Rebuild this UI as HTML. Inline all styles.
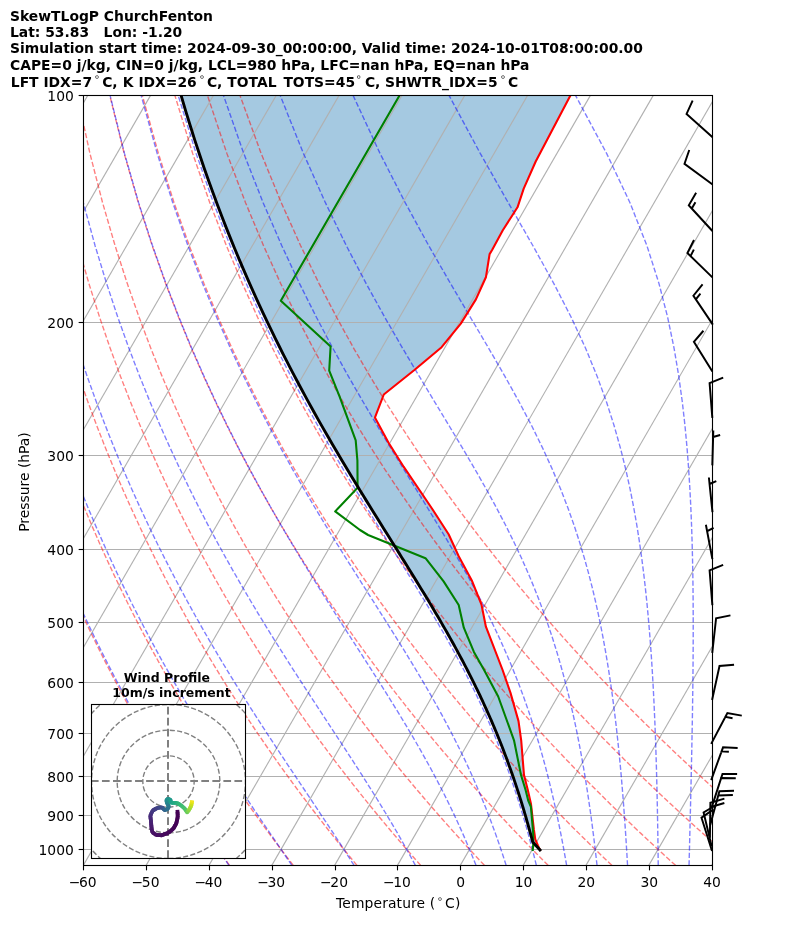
<!DOCTYPE html>
<html><head><meta charset="utf-8"><title>SkewTLogP ChurchFenton</title>
<style>html,body{margin:0;padding:0;background:#fff}svg{display:block}</style></head>
<body>
<svg width="794" height="937" viewBox="0 0 794 937"><defs><clipPath id="axclip"><rect x="83.50" y="95.50" width="629.00" height="770.00"/></clipPath></defs><rect width="794" height="937" fill="#fff"/><g clip-path="url(#axclip)">
<path d="M540.00 850.00 L532.70 842.00 L532.46 841.08 L532.02 839.40 L531.57 837.71 L531.12 836.00 L530.66 834.29 L530.19 832.58 L529.72 830.85 L529.24 829.11 L528.76 827.36 L528.27 825.61 L527.78 823.84 L527.27 822.07 L526.76 820.28 L526.25 818.49 L525.73 816.68 L525.20 814.87 L524.66 813.05 L524.12 811.21 L523.57 809.37 L523.01 807.51 L522.44 805.65 L521.87 803.77 L521.29 801.88 L520.70 799.98 L520.10 798.07 L519.49 796.15 L518.88 794.22 L518.25 792.28 L517.62 790.32 L516.98 788.36 L516.33 786.38 L515.66 784.39 L514.99 782.38 L514.31 780.37 L513.62 778.34 L512.92 776.30 L512.21 774.25 L511.49 772.18 L510.75 770.10 L510.01 768.01 L509.25 765.90 L508.49 763.78 L507.71 761.65 L506.92 759.50 L506.11 757.34 L505.30 755.17 L504.47 752.98 L503.63 750.77 L502.77 748.55 L501.90 746.32 L501.02 744.06 L500.12 741.80 L499.21 739.52 L498.28 737.22 L497.34 734.90 L496.38 732.57 L495.41 730.23 L494.42 727.86 L493.41 725.48 L492.39 723.08 L491.35 720.66 L490.29 718.23 L489.22 715.78 L488.12 713.30 L487.01 710.81 L485.88 708.31 L484.73 705.78 L483.56 703.23 L482.37 700.66 L481.16 698.07 L479.93 695.46 L478.68 692.83 L477.40 690.18 L476.11 687.51 L474.79 684.81 L473.45 682.09 L472.08 679.35 L470.69 676.59 L469.28 673.80 L467.84 670.99 L466.38 668.16 L464.90 665.30 L463.38 662.41 L461.84 659.50 L460.28 656.56 L458.69 653.60 L457.07 650.61 L455.42 647.59 L453.74 644.55 L452.04 641.47 L450.30 638.37 L448.54 635.23 L446.75 632.07 L444.93 628.87 L443.07 625.65 L441.19 622.39 L439.28 619.10 L437.33 615.77 L435.35 612.41 L433.34 609.02 L431.30 605.59 L429.23 602.13 L427.12 598.62 L424.98 595.08 L422.81 591.51 L420.60 587.89 L418.36 584.23 L416.09 580.53 L413.78 576.79 L411.44 573.00 L409.07 569.17 L406.66 565.29 L404.21 561.37 L401.74 557.40 L399.23 553.38 L396.68 549.32 L394.10 545.20 L391.49 541.03 L388.84 536.80 L386.16 532.52 L383.45 528.18 L380.70 523.79 L377.92 519.33 L375.10 514.81 L372.26 510.23 L369.37 505.59 L366.46 500.88 L363.51 496.10 L360.53 491.25 L357.51 486.32 L354.46 481.32 L351.38 476.24 L348.27 471.09 L345.12 465.85 L341.95 460.52 L338.73 455.11 L335.49 449.61 L332.21 444.01 L328.91 438.31 L325.56 432.52 L322.19 426.62 L318.78 420.61 L315.34 414.49 L311.87 408.25 L308.36 401.89 L304.82 395.41 L301.25 388.79 L297.64 382.04 L293.99 375.14 L290.32 368.10 L286.61 360.90 L282.86 353.54 L279.07 346.02 L275.25 338.31 L271.40 330.42 L267.51 322.33 L263.57 314.04 L259.60 305.54 L255.60 296.80 L251.55 287.83 L247.46 278.61 L243.33 269.11 L239.16 259.34 L234.95 249.26 L230.70 238.86 L226.40 228.13 L222.06 217.03 L217.68 205.53 L213.26 193.62 L208.79 181.27 L204.27 168.42 L199.72 155.05 L195.12 141.12 L190.48 126.56 L185.80 111.33 L181.08 95.35 L570.40 95.50 L535.70 161.50 L523.70 188.70 L517.50 207.30 L502.80 230.30 L492.10 250.00 L489.60 254.10 L485.90 277.30 L475.90 299.40 L460.80 323.60 L441.60 347.20 L414.40 370.00 L383.80 394.50 L374.90 417.60 L388.40 442.50 L403.60 466.70 L431.60 508.00 L448.60 534.20 L458.70 556.20 L471.80 580.40 L481.50 604.60 L485.90 626.70 L502.60 670.00 L510.50 692.90 L518.50 721.10 L521.20 740.30 L522.90 761.70 L524.00 775.00 L527.80 790.00 L531.00 804.10 L533.90 829.70 L535.30 839.40 L537.90 845.50 L540.00 850.00 Z" fill="#1f77b4" fill-opacity="0.4" stroke="none"/>
<line x1="83.50" y1="95.50" x2="712.50" y2="95.50" stroke="#b0b0b0" stroke-width="1.11"/>
<line x1="83.50" y1="322.50" x2="712.50" y2="322.50" stroke="#b0b0b0" stroke-width="1.11"/>
<line x1="83.50" y1="455.50" x2="712.50" y2="455.50" stroke="#b0b0b0" stroke-width="1.11"/>
<line x1="83.50" y1="549.50" x2="712.50" y2="549.50" stroke="#b0b0b0" stroke-width="1.11"/>
<line x1="83.50" y1="622.50" x2="712.50" y2="622.50" stroke="#b0b0b0" stroke-width="1.11"/>
<line x1="83.50" y1="682.50" x2="712.50" y2="682.50" stroke="#b0b0b0" stroke-width="1.11"/>
<line x1="83.50" y1="733.50" x2="712.50" y2="733.50" stroke="#b0b0b0" stroke-width="1.11"/>
<line x1="83.50" y1="776.50" x2="712.50" y2="776.50" stroke="#b0b0b0" stroke-width="1.11"/>
<line x1="83.50" y1="815.50" x2="712.50" y2="815.50" stroke="#b0b0b0" stroke-width="1.11"/>
<line x1="83.50" y1="849.50" x2="712.50" y2="849.50" stroke="#b0b0b0" stroke-width="1.11"/>
<line x1="-356.55" y1="865.35" x2="87.74" y2="95.35" stroke="#b0b0b0" stroke-width="1.11"/>
<line x1="-293.71" y1="865.35" x2="150.58" y2="95.35" stroke="#b0b0b0" stroke-width="1.11"/>
<line x1="-230.88" y1="865.35" x2="213.41" y2="95.35" stroke="#b0b0b0" stroke-width="1.11"/>
<line x1="-168.04" y1="865.35" x2="276.25" y2="95.35" stroke="#b0b0b0" stroke-width="1.11"/>
<line x1="-105.20" y1="865.35" x2="339.08" y2="95.35" stroke="#b0b0b0" stroke-width="1.11"/>
<line x1="-42.37" y1="865.35" x2="401.92" y2="95.35" stroke="#b0b0b0" stroke-width="1.11"/>
<line x1="20.46" y1="865.35" x2="464.75" y2="95.35" stroke="#b0b0b0" stroke-width="1.11"/>
<line x1="83.30" y1="865.35" x2="527.59" y2="95.35" stroke="#b0b0b0" stroke-width="1.11"/>
<line x1="146.13" y1="865.35" x2="590.42" y2="95.35" stroke="#b0b0b0" stroke-width="1.11"/>
<line x1="208.97" y1="865.35" x2="653.26" y2="95.35" stroke="#b0b0b0" stroke-width="1.11"/>
<line x1="271.81" y1="865.35" x2="716.10" y2="95.35" stroke="#b0b0b0" stroke-width="1.11"/>
<line x1="334.64" y1="865.35" x2="778.93" y2="95.35" stroke="#b0b0b0" stroke-width="1.11"/>
<line x1="397.48" y1="865.35" x2="841.76" y2="95.35" stroke="#b0b0b0" stroke-width="1.11"/>
<line x1="460.31" y1="865.35" x2="904.60" y2="95.35" stroke="#b0b0b0" stroke-width="1.11"/>
<line x1="523.14" y1="865.35" x2="967.43" y2="95.35" stroke="#b0b0b0" stroke-width="1.11"/>
<line x1="585.98" y1="865.35" x2="1030.27" y2="95.35" stroke="#b0b0b0" stroke-width="1.11"/>
<line x1="648.81" y1="865.35" x2="1093.11" y2="95.35" stroke="#b0b0b0" stroke-width="1.11"/>
<line x1="711.65" y1="865.35" x2="1155.94" y2="95.35" stroke="#b0b0b0" stroke-width="1.11"/>
<path d="M229.54 865.35 L225.17 859.25 L220.76 853.03 L216.31 846.69 L211.82 840.22 L207.29 833.63 L202.71 826.90 L198.09 820.03 L193.42 813.01 L188.70 805.84 L183.94 798.50 L179.13 791.00 L174.26 783.33 L169.35 775.46 L164.37 767.41 L159.35 759.15 L154.26 750.68 L149.12 741.98 L143.92 733.05 L138.65 723.87 L133.33 714.42 L127.93 704.69 L122.47 694.66 L116.94 684.31 L111.33 673.63 L105.65 662.59 L99.90 651.16 L94.07 639.32 L88.15 627.03 L82.15 614.27 L76.07 600.99 L69.89 587.14 L63.63 572.69 L57.27 557.57 L50.81 541.71 L44.26 525.05 L37.61 507.49 L30.86 488.94 L24.01 469.28 L17.06 448.36 L10.02 426.01 L2.89 402.02 L-4.32 376.14 L-11.58 348.03 L-18.88 317.28 L-26.17 283.35 L-33.38 245.48 L-40.39 202.66 L-47.02 153.38 L-52.95 95.35" fill="none" stroke="#ff0000" stroke-opacity="0.5" stroke-width="1.39" stroke-dasharray="5.14 2.22"/>
<path d="M293.25 865.35 L288.55 859.25 L283.80 853.03 L279.00 846.69 L274.16 840.22 L269.26 833.63 L264.32 826.90 L259.33 820.03 L254.29 813.01 L249.20 805.84 L244.05 798.50 L238.84 791.00 L233.58 783.33 L228.26 775.46 L222.87 767.41 L217.43 759.15 L211.91 750.68 L206.34 741.98 L200.69 733.05 L194.97 723.87 L189.18 714.42 L183.31 704.69 L177.37 694.66 L171.34 684.31 L165.24 673.63 L159.04 662.59 L152.76 651.16 L146.38 639.32 L139.91 627.03 L133.33 614.27 L126.66 600.99 L119.88 587.14 L112.99 572.69 L105.98 557.57 L98.86 541.71 L91.61 525.05 L84.24 507.49 L76.74 488.94 L69.11 469.28 L61.35 448.36 L53.45 426.01 L45.42 402.02 L37.26 376.14 L28.99 348.03 L20.62 317.28 L12.18 283.35 L3.72 245.48 L-4.65 202.66 L-12.79 153.38 L-20.40 95.35" fill="none" stroke="#ff0000" stroke-opacity="0.5" stroke-width="1.39" stroke-dasharray="5.14 2.22"/>
<path d="M356.97 865.35 L351.92 859.25 L346.83 853.03 L341.69 846.69 L336.49 840.22 L331.24 833.63 L325.94 826.90 L320.58 820.03 L315.17 813.01 L309.69 805.84 L304.16 798.50 L298.56 791.00 L292.90 783.33 L287.17 775.46 L281.37 767.41 L275.50 759.15 L269.57 750.68 L263.55 741.98 L257.46 733.05 L251.29 723.87 L245.04 714.42 L238.70 704.69 L232.27 694.66 L225.75 684.31 L219.14 673.63 L212.43 662.59 L205.61 651.16 L198.69 639.32 L191.66 627.03 L184.52 614.27 L177.25 600.99 L169.86 587.14 L162.34 572.69 L154.69 557.57 L146.90 541.71 L138.96 525.05 L130.87 507.49 L122.62 488.94 L114.21 469.28 L105.63 448.36 L96.88 426.01 L87.95 402.02 L78.84 376.14 L69.56 348.03 L60.11 317.28 L50.52 283.35 L40.82 245.48 L31.09 202.66 L21.45 153.38 L12.14 95.35" fill="none" stroke="#ff0000" stroke-opacity="0.5" stroke-width="1.39" stroke-dasharray="5.14 2.22"/>
<path d="M420.69 865.35 L415.30 859.25 L409.87 853.03 L404.37 846.69 L398.83 840.22 L393.22 833.63 L387.55 826.90 L381.83 820.03 L376.04 813.01 L370.18 805.84 L364.26 798.50 L358.27 791.00 L352.21 783.33 L346.08 775.46 L339.87 767.41 L333.58 759.15 L327.22 750.68 L320.77 741.98 L314.23 733.05 L307.61 723.87 L300.89 714.42 L294.08 704.69 L287.17 694.66 L280.16 684.31 L273.04 673.63 L265.81 662.59 L258.47 651.16 L251.00 639.32 L243.42 627.03 L235.70 614.27 L227.84 600.99 L219.85 587.14 L211.70 572.69 L203.40 557.57 L194.94 541.71 L186.31 525.05 L177.50 507.49 L168.50 488.94 L159.31 469.28 L149.92 448.36 L140.31 426.01 L130.48 402.02 L120.42 376.14 L110.13 348.03 L99.61 317.28 L88.87 283.35 L77.93 245.48 L66.83 202.66 L55.68 153.38 L44.69 95.35" fill="none" stroke="#ff0000" stroke-opacity="0.5" stroke-width="1.39" stroke-dasharray="5.14 2.22"/>
<path d="M484.40 865.35 L478.68 859.25 L472.90 853.03 L467.06 846.69 L461.16 840.22 L455.20 833.63 L449.17 826.90 L443.07 820.03 L436.91 813.01 L430.68 805.84 L424.37 798.50 L417.99 791.00 L411.53 783.33 L404.99 775.46 L398.37 767.41 L391.66 759.15 L384.87 750.68 L377.98 741.98 L371.00 733.05 L363.93 723.87 L356.75 714.42 L349.46 704.69 L342.07 694.66 L334.57 684.31 L326.94 673.63 L319.20 662.59 L311.32 651.16 L303.32 639.32 L295.17 627.03 L286.88 614.27 L278.43 600.99 L269.83 587.14 L261.06 572.69 L252.11 557.57 L242.98 541.71 L233.66 525.05 L224.13 507.49 L214.38 488.94 L204.41 469.28 L194.20 448.36 L183.74 426.01 L173.01 402.02 L162.00 376.14 L150.71 348.03 L139.11 317.28 L127.22 283.35 L115.03 245.48 L102.57 202.66 L89.92 153.38 L77.23 95.35" fill="none" stroke="#ff0000" stroke-opacity="0.5" stroke-width="1.39" stroke-dasharray="5.14 2.22"/>
<path d="M548.12 865.35 L542.06 859.25 L535.94 853.03 L529.75 846.69 L523.50 840.22 L517.18 833.63 L510.78 826.90 L504.32 820.03 L497.78 813.01 L491.17 805.84 L484.48 798.50 L477.70 791.00 L470.84 783.33 L463.90 775.46 L456.87 767.41 L449.74 759.15 L442.52 750.68 L435.20 741.98 L427.77 733.05 L420.24 723.87 L412.60 714.42 L404.85 704.69 L396.97 694.66 L388.97 684.31 L380.85 673.63 L372.58 662.59 L364.18 651.16 L355.63 639.32 L346.93 627.03 L338.06 614.27 L329.03 600.99 L319.82 587.14 L310.42 572.69 L300.83 557.57 L291.03 541.71 L281.01 525.05 L270.76 507.49 L260.26 488.94 L249.51 469.28 L238.48 448.36 L227.17 426.01 L215.54 402.02 L203.58 376.14 L191.28 348.03 L178.61 317.28 L165.56 283.35 L152.13 245.48 L138.31 202.66 L124.16 153.38 L109.78 95.35" fill="none" stroke="#ff0000" stroke-opacity="0.5" stroke-width="1.39" stroke-dasharray="5.14 2.22"/>
<path d="M611.84 865.35 L605.44 859.25 L598.97 853.03 L592.44 846.69 L585.83 840.22 L579.15 833.63 L572.40 826.90 L565.57 820.03 L558.66 813.01 L551.66 805.84 L544.58 798.50 L537.42 791.00 L530.16 783.33 L522.81 775.46 L515.36 767.41 L507.82 759.15 L500.17 750.68 L492.41 741.98 L484.54 733.05 L476.56 723.87 L468.46 714.42 L460.23 704.69 L451.87 694.66 L443.38 684.31 L434.75 673.63 L425.97 662.59 L417.04 651.16 L407.94 639.32 L398.68 627.03 L389.24 614.27 L379.62 600.99 L369.80 587.14 L359.78 572.69 L349.54 557.57 L339.07 541.71 L328.36 525.05 L317.39 507.49 L306.14 488.94 L294.61 469.28 L282.77 448.36 L270.60 426.01 L258.07 402.02 L245.16 376.14 L231.85 348.03 L218.11 317.28 L203.91 283.35 L189.23 245.48 L174.05 202.66 L158.39 153.38 L142.33 95.35" fill="none" stroke="#ff0000" stroke-opacity="0.5" stroke-width="1.39" stroke-dasharray="5.14 2.22"/>
<path d="M675.55 865.35 L668.82 859.25 L662.01 853.03 L655.13 846.69 L648.17 840.22 L641.13 833.63 L634.01 826.90 L626.81 820.03 L619.53 813.01 L612.16 805.84 L604.69 798.50 L597.13 791.00 L589.48 783.33 L581.72 775.46 L573.86 767.41 L565.90 759.15 L557.82 750.68 L549.63 741.98 L541.31 733.05 L532.88 723.87 L524.31 714.42 L515.61 704.69 L506.77 694.66 L497.79 684.31 L488.65 673.63 L479.35 662.59 L469.89 651.16 L460.26 639.32 L450.44 627.03 L440.42 614.27 L430.21 600.99 L419.79 587.14 L409.14 572.69 L398.25 557.57 L387.11 541.71 L375.70 525.05 L364.02 507.49 L352.02 488.94 L339.71 469.28 L327.05 448.36 L314.02 426.01 L300.60 402.02 L286.74 376.14 L272.42 348.03 L257.61 317.28 L242.25 283.35 L226.33 245.48 L209.79 202.66 L192.63 153.38 L174.87 95.35" fill="none" stroke="#ff0000" stroke-opacity="0.5" stroke-width="1.39" stroke-dasharray="5.14 2.22"/>
<path d="M739.27 865.35 L732.20 859.25 L725.05 853.03 L717.81 846.69 L710.50 840.22 L703.11 833.63 L695.63 826.90 L688.06 820.03 L680.40 813.01 L672.65 805.84 L664.80 798.50 L656.85 791.00 L648.79 783.33 L640.63 775.46 L632.36 767.41 L623.98 759.15 L615.47 750.68 L606.84 741.98 L598.09 733.05 L589.20 723.87 L580.17 714.42 L571.00 704.69 L561.67 694.66 L552.20 684.31 L542.55 673.63 L532.74 662.59 L522.75 651.16 L512.57 639.32 L502.19 627.03 L491.61 614.27 L480.80 600.99 L469.77 587.14 L458.49 572.69 L446.96 557.57 L435.15 541.71 L423.05 525.05 L410.64 507.49 L397.91 488.94 L384.81 469.28 L371.34 448.36 L357.45 426.01 L343.13 402.02 L328.32 376.14 L313.00 348.03 L297.11 317.28 L280.60 283.35 L263.43 245.48 L245.53 202.66 L226.86 153.38 L207.42 95.35" fill="none" stroke="#ff0000" stroke-opacity="0.5" stroke-width="1.39" stroke-dasharray="5.14 2.22"/>
<path d="M802.99 865.35 L795.58 859.25 L788.08 853.03 L780.50 846.69 L772.84 840.22 L765.09 833.63 L757.24 826.90 L749.31 820.03 L741.27 813.01 L733.14 805.84 L724.91 798.50 L716.56 791.00 L708.11 783.33 L699.54 775.46 L690.86 767.41 L682.05 759.15 L673.12 750.68 L664.06 741.98 L654.86 733.05 L645.51 723.87 L636.02 714.42 L626.38 704.69 L616.57 694.66 L606.60 684.31 L596.46 673.63 L586.13 662.59 L575.60 651.16 L564.88 639.32 L553.95 627.03 L542.79 614.27 L531.40 600.99 L519.76 587.14 L507.85 572.69 L495.67 557.57 L483.19 541.71 L470.40 525.05 L457.27 507.49 L443.79 488.94 L429.91 469.28 L415.62 448.36 L400.88 426.01 L385.66 402.02 L369.90 376.14 L353.57 348.03 L336.60 317.28 L318.95 283.35 L300.53 245.48 L281.27 202.66 L261.10 153.38 L239.96 95.35" fill="none" stroke="#ff0000" stroke-opacity="0.5" stroke-width="1.39" stroke-dasharray="5.14 2.22"/>
<path d="M228.97 865.35 L224.84 859.25 L220.64 853.03 L216.39 846.69 L212.08 840.22 L207.71 833.63 L203.28 826.90 L198.80 820.03 L194.25 813.01 L189.64 805.84 L184.97 798.50 L180.24 791.00 L175.45 783.33 L170.60 775.46 L165.68 767.41 L160.70 759.15 L155.66 750.68 L150.55 741.98 L145.37 733.05 L140.13 723.87 L134.81 714.42 L129.43 704.69 L123.97 694.66 L118.44 684.31 L112.84 673.63 L107.16 662.59 L101.39 651.16 L95.55 639.32 L89.63 627.03 L83.61 614.27 L77.52 600.99 L71.33 587.14 L65.05 572.69 L58.67 557.57 L52.20 541.71 L45.63 525.05 L38.96 507.49 L32.18 488.94 L25.31 469.28 L18.34 448.36 L11.27 426.01 L4.12 402.02 L-3.12 376.14 L-10.41 348.03 L-17.74 317.28 L-25.06 283.35 L-32.31 245.48 L-39.36 202.66 L-46.03 153.38 L-52.01 95.35" fill="none" stroke="#0000ff" stroke-opacity="0.5" stroke-width="1.39" stroke-dasharray="5.14 2.22"/>
<path d="M291.89 865.35 L287.74 859.25 L283.51 853.03 L279.20 846.69 L274.80 840.22 L270.33 833.63 L265.77 826.90 L261.13 820.03 L256.40 813.01 L251.60 805.84 L246.71 798.50 L241.73 791.00 L236.68 783.33 L231.54 775.46 L226.31 767.41 L221.00 759.15 L215.61 750.68 L210.13 741.98 L204.57 733.05 L198.91 723.87 L193.17 714.42 L187.35 704.69 L181.43 694.66 L175.42 684.31 L169.31 673.63 L163.12 662.59 L156.82 651.16 L150.43 639.32 L143.93 627.03 L137.33 614.27 L130.62 600.99 L123.80 587.14 L116.87 572.69 L109.81 557.57 L102.64 541.71 L95.34 525.05 L87.92 507.49 L80.36 488.94 L72.67 469.28 L64.84 448.36 L56.88 426.01 L48.78 402.02 L40.55 376.14 L32.19 348.03 L23.73 317.28 L15.20 283.35 L6.65 245.48 L-1.83 202.66 L-10.08 153.38 L-17.83 95.35" fill="none" stroke="#0000ff" stroke-opacity="0.5" stroke-width="1.39" stroke-dasharray="5.14 2.22"/>
<path d="M354.08 865.35 L350.20 859.25 L346.22 853.03 L342.12 846.69 L337.91 840.22 L333.59 833.63 L329.16 826.90 L324.61 820.03 L319.95 813.01 L315.17 805.84 L310.27 798.50 L305.26 791.00 L300.12 783.33 L294.87 775.46 L289.50 767.41 L284.01 759.15 L278.40 750.68 L272.67 741.98 L266.82 733.05 L260.85 723.87 L254.76 714.42 L248.56 704.69 L242.23 694.66 L235.78 684.31 L229.21 673.63 L222.52 662.59 L215.70 651.16 L208.75 639.32 L201.68 627.03 L194.48 614.27 L187.14 600.99 L179.67 587.14 L172.05 572.69 L164.29 557.57 L156.38 541.71 L148.32 525.05 L140.09 507.49 L131.70 488.94 L123.14 469.28 L114.40 448.36 L105.48 426.01 L96.37 402.02 L87.08 376.14 L77.60 348.03 L67.94 317.28 L58.12 283.35 L48.17 245.48 L38.17 202.66 L28.23 153.38 L18.59 95.35" fill="none" stroke="#0000ff" stroke-opacity="0.5" stroke-width="1.39" stroke-dasharray="5.14 2.22"/>
<path d="M415.39 865.35 L412.12 859.25 L408.72 853.03 L405.20 846.69 L401.55 840.22 L397.76 833.63 L393.84 826.90 L389.78 820.03 L385.57 813.01 L381.21 805.84 L376.70 798.50 L372.03 791.00 L367.19 783.33 L362.20 775.46 L357.03 767.41 L351.70 759.15 L346.19 750.68 L340.51 741.98 L334.65 733.05 L328.62 723.87 L322.42 714.42 L316.03 704.69 L309.47 694.66 L302.74 684.31 L295.83 673.63 L288.74 662.59 L281.48 651.16 L274.04 639.32 L266.42 627.03 L258.63 614.27 L250.66 600.99 L242.51 587.14 L234.18 572.69 L225.66 557.57 L216.95 541.71 L208.04 525.05 L198.93 507.49 L189.61 488.94 L180.08 469.28 L170.32 448.36 L160.32 426.01 L150.08 402.02 L139.59 376.14 L128.84 348.03 L117.82 317.28 L106.55 283.35 L95.03 245.48 L83.31 202.66 L71.47 153.38 L59.69 95.35" fill="none" stroke="#0000ff" stroke-opacity="0.5" stroke-width="1.39" stroke-dasharray="5.14 2.22"/>
<path d="M475.99 865.35 L473.57 859.25 L471.04 853.03 L468.41 846.69 L465.66 840.22 L462.78 833.63 L459.78 826.90 L456.64 820.03 L453.35 813.01 L449.91 805.84 L446.31 798.50 L442.54 791.00 L438.58 783.33 L434.44 775.46 L430.10 767.41 L425.55 759.15 L420.79 750.68 L415.80 741.98 L410.57 733.05 L405.10 723.87 L399.38 714.42 L393.40 704.69 L387.16 694.66 L380.65 684.31 L373.86 673.63 L366.80 662.59 L359.46 651.16 L351.84 639.32 L343.94 627.03 L335.77 614.27 L327.31 600.99 L318.59 587.14 L309.58 572.69 L300.31 557.57 L290.75 541.71 L280.93 525.05 L270.82 507.49 L260.43 488.94 L249.75 469.28 L238.77 448.36 L227.48 426.01 L215.87 402.02 L203.92 376.14 L191.62 348.03 L178.94 317.28 L165.89 283.35 L152.44 245.48 L138.61 202.66 L124.45 153.38 L110.06 95.35" fill="none" stroke="#0000ff" stroke-opacity="0.5" stroke-width="1.39" stroke-dasharray="5.14 2.22"/>
<path d="M506.16 865.35 L504.21 859.25 L502.17 853.03 L500.04 846.69 L497.80 840.22 L495.47 833.63 L493.02 826.90 L490.45 820.03 L487.75 813.01 L484.91 805.84 L481.93 798.50 L478.80 791.00 L475.49 783.33 L472.01 775.46 L468.34 767.41 L464.47 759.15 L460.38 750.68 L456.06 741.98 L451.50 733.05 L446.69 723.87 L441.60 714.42 L436.23 704.69 L430.55 694.66 L424.57 684.31 L418.26 673.63 L411.61 662.59 L404.62 651.16 L397.28 639.32 L389.57 627.03 L381.50 614.27 L373.07 600.99 L364.27 587.14 L355.11 572.69 L345.58 557.57 L335.70 541.71 L325.45 525.05 L314.85 507.49 L303.90 488.94 L292.59 469.28 L280.91 448.36 L268.86 426.01 L256.43 402.02 L243.59 376.14 L230.34 348.03 L216.65 317.28 L202.50 283.35 L187.86 245.48 L172.74 202.66 L157.13 153.38 L141.13 95.35" fill="none" stroke="#0000ff" stroke-opacity="0.5" stroke-width="1.39" stroke-dasharray="5.14 2.22"/>
<path d="M536.36 865.35 L534.86 859.25 L533.30 853.03 L531.67 846.69 L529.95 840.22 L528.16 833.63 L526.27 826.90 L524.29 820.03 L522.21 813.01 L520.01 805.84 L517.70 798.50 L515.25 791.00 L512.67 783.33 L509.94 775.46 L507.05 767.41 L503.98 759.15 L500.72 750.68 L497.26 741.98 L493.57 733.05 L489.65 723.87 L485.47 714.42 L481.01 704.69 L476.25 694.66 L471.17 684.31 L465.74 673.63 L459.95 662.59 L453.76 651.16 L447.16 639.32 L440.12 627.03 L432.63 614.27 L424.67 600.99 L416.22 587.14 L407.28 572.69 L397.85 557.57 L387.91 541.71 L377.48 525.05 L366.55 507.49 L355.13 488.94 L343.23 469.28 L330.85 448.36 L318.00 426.01 L304.65 402.02 L290.81 376.14 L276.46 348.03 L261.57 317.28 L246.12 283.35 L230.08 245.48 L213.41 202.66 L196.09 153.38 L178.17 95.35" fill="none" stroke="#0000ff" stroke-opacity="0.5" stroke-width="1.39" stroke-dasharray="5.14 2.22"/>
<path d="M566.63 865.35 L565.56 859.25 L564.45 853.03 L563.28 846.69 L562.06 840.22 L560.78 833.63 L559.43 826.90 L558.02 820.03 L556.52 813.01 L554.95 805.84 L553.29 798.50 L551.53 791.00 L549.67 783.33 L547.69 775.46 L545.60 767.41 L543.37 759.15 L540.99 750.68 L538.45 741.98 L535.74 733.05 L532.84 723.87 L529.73 714.42 L526.38 704.69 L522.78 694.66 L518.90 684.31 L514.71 673.63 L510.18 662.59 L505.27 651.16 L499.96 639.32 L494.20 627.03 L487.95 614.27 L481.18 600.99 L473.83 587.14 L465.87 572.69 L457.27 557.57 L447.99 541.71 L438.02 525.05 L427.32 507.49 L415.91 488.94 L403.78 469.28 L390.95 448.36 L377.41 426.01 L363.18 402.02 L348.28 376.14 L332.69 348.03 L316.42 317.28 L299.42 283.35 L281.67 245.48 L263.12 202.66 L243.72 153.38 L223.44 95.35" fill="none" stroke="#0000ff" stroke-opacity="0.5" stroke-width="1.39" stroke-dasharray="5.14 2.22"/>
<path d="M597.02 865.35 L596.34 859.25 L595.63 853.03 L594.88 846.69 L594.10 840.22 L593.28 833.63 L592.41 826.90 L591.51 820.03 L590.55 813.01 L589.53 805.84 L588.46 798.50 L587.33 791.00 L586.13 783.33 L584.85 775.46 L583.49 767.41 L582.05 759.15 L580.50 750.68 L578.84 741.98 L577.07 733.05 L575.16 723.87 L573.10 714.42 L570.88 704.69 L568.48 694.66 L565.88 684.31 L563.05 673.63 L559.97 662.59 L556.59 651.16 L552.90 639.32 L548.84 627.03 L544.38 614.27 L539.44 600.99 L533.99 587.14 L527.94 572.69 L521.23 557.57 L513.77 541.71 L505.50 525.05 L496.32 507.49 L486.16 488.94 L474.96 469.28 L462.67 448.36 L449.27 426.01 L434.76 402.02 L419.16 376.14 L402.48 348.03 L384.77 317.28 L366.03 283.35 L346.24 245.48 L325.39 202.66 L303.39 153.38 L280.18 95.35" fill="none" stroke="#0000ff" stroke-opacity="0.5" stroke-width="1.39" stroke-dasharray="5.14 2.22"/>
<path d="M627.55 865.35 L627.20 859.25 L626.84 853.03 L626.45 846.69 L626.05 840.22 L625.62 833.63 L625.17 826.90 L624.70 820.03 L624.20 813.01 L623.67 805.84 L623.10 798.50 L622.50 791.00 L621.87 783.33 L621.19 775.46 L620.46 767.41 L619.68 759.15 L618.84 750.68 L617.94 741.98 L616.97 733.05 L615.93 723.87 L614.79 714.42 L613.56 704.69 L612.23 694.66 L610.77 684.31 L609.17 673.63 L607.42 662.59 L605.49 651.16 L603.35 639.32 L600.99 627.03 L598.36 614.27 L595.42 600.99 L592.13 587.14 L588.41 572.69 L584.21 557.57 L579.44 541.71 L574.00 525.05 L567.76 507.49 L560.59 488.94 L552.32 469.28 L542.79 448.36 L531.80 426.01 L519.19 402.02 L504.80 376.14 L488.55 348.03 L470.40 317.28 L450.41 283.35 L428.65 245.48 L405.18 202.66 L380.01 153.38 L353.08 95.35" fill="none" stroke="#0000ff" stroke-opacity="0.5" stroke-width="1.39" stroke-dasharray="5.14 2.22"/>
<path d="M658.23 865.35 L658.16 859.25 L658.08 853.03 L658.00 846.69 L657.91 840.22 L657.81 833.63 L657.70 826.90 L657.59 820.03 L657.46 813.01 L657.32 805.84 L657.17 798.50 L657.01 791.00 L656.83 783.33 L656.63 775.46 L656.41 767.41 L656.17 759.15 L655.90 750.68 L655.61 741.98 L655.29 733.05 L654.93 723.87 L654.53 714.42 L654.09 704.69 L653.60 694.66 L653.05 684.31 L652.44 673.63 L651.75 662.59 L650.98 651.16 L650.11 639.32 L649.12 627.03 L648.00 614.27 L646.73 600.99 L645.27 587.14 L643.59 572.69 L641.66 557.57 L639.41 541.71 L636.79 525.05 L633.71 507.49 L630.07 488.94 L625.73 469.28 L620.51 448.36 L614.21 426.01 L606.52 402.02 L597.09 376.14 L585.47 348.03 L571.18 317.28 L553.73 283.35 L532.78 245.48 L508.23 202.66 L480.23 153.38 L449.01 95.35" fill="none" stroke="#0000ff" stroke-opacity="0.5" stroke-width="1.39" stroke-dasharray="5.14 2.22"/>
<path d="M689.05 865.35 L689.20 859.25 L689.36 853.03 L689.52 846.69 L689.68 840.22 L689.84 833.63 L690.01 826.90 L690.18 820.03 L690.35 813.01 L690.52 805.84 L690.70 798.50 L690.87 791.00 L691.05 783.33 L691.23 775.46 L691.40 767.41 L691.58 759.15 L691.76 750.68 L691.93 741.98 L692.10 733.05 L692.27 723.87 L692.43 714.42 L692.58 704.69 L692.72 694.66 L692.86 684.31 L692.97 673.63 L693.07 662.59 L693.15 651.16 L693.20 639.32 L693.22 627.03 L693.20 614.27 L693.13 600.99 L693.00 587.14 L692.80 572.69 L692.50 557.57 L692.10 541.71 L691.55 525.05 L690.83 507.49 L689.89 488.94 L688.67 469.28 L687.08 448.36 L685.02 426.01 L682.32 402.02 L678.76 376.14 L674.03 348.03 L667.65 317.28 L658.93 283.35 L646.84 245.48 L629.96 202.66 L606.60 153.38 L575.47 95.35" fill="none" stroke="#0000ff" stroke-opacity="0.5" stroke-width="1.39" stroke-dasharray="5.14 2.22"/>
<path d="M720.00 865.35 L720.33 859.25 L720.67 853.03 L721.02 846.69 L721.37 840.22 L721.74 833.63 L722.12 826.90 L722.51 820.03 L722.91 813.01 L723.32 805.84 L723.74 798.50 L724.18 791.00 L724.63 783.33 L725.09 775.46 L725.56 767.41 L726.05 759.15 L726.56 750.68 L727.07 741.98 L727.61 733.05 L728.16 723.87 L728.73 714.42 L729.31 704.69 L729.92 694.66 L730.54 684.31 L731.18 673.63 L731.83 662.59 L732.51 651.16 L733.21 639.32 L733.92 627.03 L734.66 614.27 L735.41 600.99 L736.18 587.14 L736.96 572.69 L737.76 557.57 L738.57 541.71 L739.38 525.05 L740.18 507.49 L740.97 488.94 L741.74 469.28 L742.44 448.36 L743.07 426.01 L743.57 402.02 L743.88 376.14 L743.88 348.03 L743.43 317.28 L742.26 283.35 L739.95 245.48 L735.71 202.66 L728.12 153.38 L714.40 95.35" fill="none" stroke="#0000ff" stroke-opacity="0.5" stroke-width="1.39" stroke-dasharray="5.14 2.22"/>
<path d="M570.40 95.50 L535.70 161.50 L523.70 188.70 L517.50 207.30 L502.80 230.30 L492.10 250.00 L489.60 254.10 L485.90 277.30 L475.90 299.40 L460.80 323.60 L441.60 347.20 L414.40 370.00 L383.80 394.50 L374.90 417.60 L388.40 442.50 L403.60 466.70 L431.60 508.00 L448.60 534.20 L458.70 556.20 L471.80 580.40 L481.50 604.60 L485.90 626.70 L502.60 670.00 L510.50 692.90 L518.50 721.10 L521.20 740.30 L522.90 761.70 L524.00 775.00 L527.80 790.00 L531.00 804.10 L533.90 829.70 L535.30 839.40 L537.90 845.50 L540.00 850.00" fill="none" stroke="#ff0000" stroke-width="2.08" stroke-linejoin="round" stroke-linecap="square"/>
<path d="M399.50 95.50 L280.80 300.80 L330.60 346.50 L329.20 370.70 L339.70 396.90 L355.70 440.30 L357.40 460.60 L357.60 487.80 L335.20 511.40 L360.00 530.00 L368.10 535.00 L425.50 558.20 L443.60 581.40 L458.70 605.00 L463.80 627.70 L473.90 651.90 L484.10 670.00 L498.20 696.50 L514.00 740.30 L521.00 775.00 L525.60 790.00 L528.20 800.50 L530.90 806.75 L533.10 832.30 L533.30 842.90 L532.80 850.00" fill="none" stroke="#008000" stroke-width="2.08" stroke-linejoin="round" stroke-linecap="square"/>
<path d="M540.00 850.00 L532.70 842.00 L532.46 841.08 L532.02 839.40 L531.57 837.71 L531.12 836.00 L530.66 834.29 L530.19 832.58 L529.72 830.85 L529.24 829.11 L528.76 827.36 L528.27 825.61 L527.78 823.84 L527.27 822.07 L526.76 820.28 L526.25 818.49 L525.73 816.68 L525.20 814.87 L524.66 813.05 L524.12 811.21 L523.57 809.37 L523.01 807.51 L522.44 805.65 L521.87 803.77 L521.29 801.88 L520.70 799.98 L520.10 798.07 L519.49 796.15 L518.88 794.22 L518.25 792.28 L517.62 790.32 L516.98 788.36 L516.33 786.38 L515.66 784.39 L514.99 782.38 L514.31 780.37 L513.62 778.34 L512.92 776.30 L512.21 774.25 L511.49 772.18 L510.75 770.10 L510.01 768.01 L509.25 765.90 L508.49 763.78 L507.71 761.65 L506.92 759.50 L506.11 757.34 L505.30 755.17 L504.47 752.98 L503.63 750.77 L502.77 748.55 L501.90 746.32 L501.02 744.06 L500.12 741.80 L499.21 739.52 L498.28 737.22 L497.34 734.90 L496.38 732.57 L495.41 730.23 L494.42 727.86 L493.41 725.48 L492.39 723.08 L491.35 720.66 L490.29 718.23 L489.22 715.78 L488.12 713.30 L487.01 710.81 L485.88 708.31 L484.73 705.78 L483.56 703.23 L482.37 700.66 L481.16 698.07 L479.93 695.46 L478.68 692.83 L477.40 690.18 L476.11 687.51 L474.79 684.81 L473.45 682.09 L472.08 679.35 L470.69 676.59 L469.28 673.80 L467.84 670.99 L466.38 668.16 L464.90 665.30 L463.38 662.41 L461.84 659.50 L460.28 656.56 L458.69 653.60 L457.07 650.61 L455.42 647.59 L453.74 644.55 L452.04 641.47 L450.30 638.37 L448.54 635.23 L446.75 632.07 L444.93 628.87 L443.07 625.65 L441.19 622.39 L439.28 619.10 L437.33 615.77 L435.35 612.41 L433.34 609.02 L431.30 605.59 L429.23 602.13 L427.12 598.62 L424.98 595.08 L422.81 591.51 L420.60 587.89 L418.36 584.23 L416.09 580.53 L413.78 576.79 L411.44 573.00 L409.07 569.17 L406.66 565.29 L404.21 561.37 L401.74 557.40 L399.23 553.38 L396.68 549.32 L394.10 545.20 L391.49 541.03 L388.84 536.80 L386.16 532.52 L383.45 528.18 L380.70 523.79 L377.92 519.33 L375.10 514.81 L372.26 510.23 L369.37 505.59 L366.46 500.88 L363.51 496.10 L360.53 491.25 L357.51 486.32 L354.46 481.32 L351.38 476.24 L348.27 471.09 L345.12 465.85 L341.95 460.52 L338.73 455.11 L335.49 449.61 L332.21 444.01 L328.91 438.31 L325.56 432.52 L322.19 426.62 L318.78 420.61 L315.34 414.49 L311.87 408.25 L308.36 401.89 L304.82 395.41 L301.25 388.79 L297.64 382.04 L293.99 375.14 L290.32 368.10 L286.61 360.90 L282.86 353.54 L279.07 346.02 L275.25 338.31 L271.40 330.42 L267.51 322.33 L263.57 314.04 L259.60 305.54 L255.60 296.80 L251.55 287.83 L247.46 278.61 L243.33 269.11 L239.16 259.34 L234.95 249.26 L230.70 238.86 L226.40 228.13 L222.06 217.03 L217.68 205.53 L213.26 193.62 L208.79 181.27 L204.27 168.42 L199.72 155.05 L195.12 141.12 L190.48 126.56 L185.80 111.33 L181.08 95.35" fill="none" stroke="#000000" stroke-width="2.9" stroke-linejoin="round" stroke-linecap="square"/>
</g>
<path d="M712.56 137.15 L686.56 113.90 L692.61 100.59 L686.56 113.90 Z" fill="#000" stroke="#000" stroke-width="1.95" stroke-linejoin="miter"/>
<path d="M712.59 184.48 L684.50 163.80 L689.26 149.98 L684.50 163.80 Z" fill="#000" stroke="#000" stroke-width="1.95" stroke-linejoin="miter"/>
<path d="M712.41 230.97 L688.80 205.30 L696.12 192.65 L688.80 205.30 L691.75 208.51 L695.41 202.18 L691.75 208.51 Z" fill="#000" stroke="#000" stroke-width="1.95" stroke-linejoin="miter"/>
<path d="M712.41 277.36 L687.40 253.05 L694.00 240.01 L687.40 253.05 L690.53 256.09 L693.83 249.57 L690.53 256.09 Z" fill="#000" stroke="#000" stroke-width="1.95" stroke-linejoin="miter"/>
<path d="M712.85 324.65 L693.40 295.70 L702.55 284.30 L693.40 295.70 L695.83 299.32 L700.41 293.62 L695.83 299.32 Z" fill="#000" stroke="#000" stroke-width="1.95" stroke-linejoin="miter"/>
<path d="M712.37 371.44 L693.90 341.85 L703.43 330.76 L693.90 341.85 Z" fill="#000" stroke="#000" stroke-width="1.95" stroke-linejoin="miter"/>
<path d="M712.33 417.82 L709.60 383.05 L723.17 377.61 L709.60 383.05 Z" fill="#000" stroke="#000" stroke-width="1.95" stroke-linejoin="miter"/>
<path d="M712.33 465.36 L713.30 430.50 L713.12 437.04 L720.15 435.05 L713.12 437.04 Z" fill="#000" stroke="#000" stroke-width="1.95" stroke-linejoin="miter"/>
<path d="M712.46 512.20 L708.90 477.50 L709.57 484.01 L716.28 481.12 L709.57 484.01 Z" fill="#000" stroke="#000" stroke-width="1.95" stroke-linejoin="miter"/>
<path d="M712.38 559.07 L705.90 524.80 L707.12 531.23 L713.56 527.79 L707.12 531.23 Z" fill="#000" stroke="#000" stroke-width="1.95" stroke-linejoin="miter"/>
<path d="M712.36 605.17 L709.60 570.40 L723.16 564.95 L709.60 570.40 Z" fill="#000" stroke="#000" stroke-width="1.95" stroke-linejoin="miter"/>
<path d="M712.25 652.87 L716.10 618.20 L730.45 615.41 L716.10 618.20 Z" fill="#000" stroke="#000" stroke-width="1.95" stroke-linejoin="miter"/>
<path d="M712.09 700.08 L719.50 666.00 L734.06 664.70 L719.50 666.00 Z" fill="#000" stroke="#000" stroke-width="1.95" stroke-linejoin="miter"/>
<path d="M711.17 743.87 L727.40 713.00 L741.78 715.63 L727.40 713.00 L725.37 716.86 L732.56 718.18 L725.37 716.86 Z" fill="#000" stroke="#000" stroke-width="1.95" stroke-linejoin="miter"/>
<path d="M711.20 780.10 L723.05 747.30 L737.65 747.94 L723.05 747.30 L721.57 751.40 L728.87 751.72 L721.57 751.40 Z" fill="#000" stroke="#000" stroke-width="1.95" stroke-linejoin="miter"/>
<path d="M711.75 807.08 L722.50 773.90 L737.12 774.05 L722.50 773.90 L721.16 778.05 L735.77 778.20 L721.16 778.05 Z" fill="#000" stroke="#000" stroke-width="1.95" stroke-linejoin="miter"/>
<path d="M710.20 824.94 L719.40 791.30 L734.01 790.78 L719.40 791.30 L718.25 795.51 L732.86 794.98 L718.25 795.51 Z" fill="#000" stroke="#000" stroke-width="1.95" stroke-linejoin="miter"/>
<path d="M709.89 837.67 L710.40 802.80 L724.41 798.65 L710.40 802.80 L710.34 807.16 L724.35 803.01 L710.34 807.16 Z" fill="#000" stroke="#000" stroke-width="1.95" stroke-linejoin="miter"/>
<path d="M711.70 846.43 L703.60 812.50 L716.16 805.02 L703.60 812.50 Z" fill="#000" stroke="#000" stroke-width="1.95" stroke-linejoin="miter"/>
<path d="M712.03 851.00 L701.50 817.75 L713.48 809.38 L701.50 817.75 Z" fill="#000" stroke="#000" stroke-width="1.95" stroke-linejoin="miter"/>
<rect x="83.50" y="95.50" width="629.00" height="770.00" fill="none" stroke="#000" stroke-width="1.11"/>
<line x1="83.50" y1="865.50" x2="83.50" y2="870.36" stroke="#000" stroke-width="1.11"/>
<text x="82.70" y="886.70" text-anchor="middle" font-size="13.89" font-family="DejaVu Sans, Liberation Sans, sans-serif">−<tspan dx="-1.35">60</tspan></text>
<line x1="146.50" y1="865.50" x2="146.50" y2="870.36" stroke="#000" stroke-width="1.11"/>
<text x="145.53" y="886.70" text-anchor="middle" font-size="13.89" font-family="DejaVu Sans, Liberation Sans, sans-serif">−<tspan dx="-1.35">50</tspan></text>
<line x1="209.50" y1="865.50" x2="209.50" y2="870.36" stroke="#000" stroke-width="1.11"/>
<text x="208.37" y="886.70" text-anchor="middle" font-size="13.89" font-family="DejaVu Sans, Liberation Sans, sans-serif">−<tspan dx="-1.35">40</tspan></text>
<line x1="272.50" y1="865.50" x2="272.50" y2="870.36" stroke="#000" stroke-width="1.11"/>
<text x="271.20" y="886.70" text-anchor="middle" font-size="13.89" font-family="DejaVu Sans, Liberation Sans, sans-serif">−<tspan dx="-1.35">30</tspan></text>
<line x1="335.50" y1="865.50" x2="335.50" y2="870.36" stroke="#000" stroke-width="1.11"/>
<text x="334.04" y="886.70" text-anchor="middle" font-size="13.89" font-family="DejaVu Sans, Liberation Sans, sans-serif">−<tspan dx="-1.35">20</tspan></text>
<line x1="397.50" y1="865.50" x2="397.50" y2="870.36" stroke="#000" stroke-width="1.11"/>
<text x="396.88" y="886.70" text-anchor="middle" font-size="13.89" font-family="DejaVu Sans, Liberation Sans, sans-serif">−<tspan dx="-1.35">10</tspan></text>
<line x1="460.50" y1="865.50" x2="460.50" y2="870.36" stroke="#000" stroke-width="1.11"/>
<text x="460.71" y="886.70" text-anchor="middle" font-size="13.89" font-family="DejaVu Sans, Liberation Sans, sans-serif">0</text>
<line x1="523.50" y1="865.50" x2="523.50" y2="870.36" stroke="#000" stroke-width="1.11"/>
<text x="523.54" y="886.70" text-anchor="middle" font-size="13.89" font-family="DejaVu Sans, Liberation Sans, sans-serif">10</text>
<line x1="586.50" y1="865.50" x2="586.50" y2="870.36" stroke="#000" stroke-width="1.11"/>
<text x="586.38" y="886.70" text-anchor="middle" font-size="13.89" font-family="DejaVu Sans, Liberation Sans, sans-serif">20</text>
<line x1="649.50" y1="865.50" x2="649.50" y2="870.36" stroke="#000" stroke-width="1.11"/>
<text x="649.21" y="886.70" text-anchor="middle" font-size="13.89" font-family="DejaVu Sans, Liberation Sans, sans-serif">30</text>
<line x1="712.50" y1="865.50" x2="712.50" y2="870.36" stroke="#000" stroke-width="1.11"/>
<text x="712.05" y="886.70" text-anchor="middle" font-size="13.89" font-family="DejaVu Sans, Liberation Sans, sans-serif">40</text>
<line x1="78.64" y1="95.50" x2="83.50" y2="95.50" stroke="#000" stroke-width="1.11"/>
<text x="73.80" y="100.70" text-anchor="end" font-size="13.89" font-family="DejaVu Sans, Liberation Sans, sans-serif">100</text>
<line x1="78.64" y1="322.50" x2="83.50" y2="322.50" stroke="#000" stroke-width="1.11"/>
<text x="73.80" y="327.70" text-anchor="end" font-size="13.89" font-family="DejaVu Sans, Liberation Sans, sans-serif">200</text>
<line x1="78.64" y1="455.50" x2="83.50" y2="455.50" stroke="#000" stroke-width="1.11"/>
<text x="73.80" y="460.70" text-anchor="end" font-size="13.89" font-family="DejaVu Sans, Liberation Sans, sans-serif">300</text>
<line x1="78.64" y1="549.50" x2="83.50" y2="549.50" stroke="#000" stroke-width="1.11"/>
<text x="73.80" y="554.70" text-anchor="end" font-size="13.89" font-family="DejaVu Sans, Liberation Sans, sans-serif">400</text>
<line x1="78.64" y1="622.50" x2="83.50" y2="622.50" stroke="#000" stroke-width="1.11"/>
<text x="73.80" y="627.70" text-anchor="end" font-size="13.89" font-family="DejaVu Sans, Liberation Sans, sans-serif">500</text>
<line x1="78.64" y1="682.50" x2="83.50" y2="682.50" stroke="#000" stroke-width="1.11"/>
<text x="73.80" y="687.70" text-anchor="end" font-size="13.89" font-family="DejaVu Sans, Liberation Sans, sans-serif">600</text>
<line x1="78.64" y1="733.50" x2="83.50" y2="733.50" stroke="#000" stroke-width="1.11"/>
<text x="73.80" y="738.70" text-anchor="end" font-size="13.89" font-family="DejaVu Sans, Liberation Sans, sans-serif">700</text>
<line x1="78.64" y1="776.50" x2="83.50" y2="776.50" stroke="#000" stroke-width="1.11"/>
<text x="73.80" y="781.70" text-anchor="end" font-size="13.89" font-family="DejaVu Sans, Liberation Sans, sans-serif">800</text>
<line x1="78.64" y1="815.50" x2="83.50" y2="815.50" stroke="#000" stroke-width="1.11"/>
<text x="73.80" y="820.70" text-anchor="end" font-size="13.89" font-family="DejaVu Sans, Liberation Sans, sans-serif">900</text>
<line x1="78.64" y1="849.50" x2="83.50" y2="849.50" stroke="#000" stroke-width="1.11"/>
<text x="73.80" y="854.70" text-anchor="end" font-size="13.89" font-family="DejaVu Sans, Liberation Sans, sans-serif">1000</text>
<text y="907.9" font-size="13.89" font-family="DejaVu Sans, Liberation Sans, sans-serif"><tspan x="336.0" letter-spacing="0.125">Temperature (</tspan><tspan x="444.9" letter-spacing="0.3">C)</tspan></text>
<text x="440.0" y="901.7" text-anchor="middle" font-size="9.72" font-family="DejaVu Sans, Liberation Sans, sans-serif">∘</text>
<text transform="translate(28.9 482) rotate(-90)" text-anchor="middle" font-size="13.89" font-family="DejaVu Sans, Liberation Sans, sans-serif">Pressure (hPa)</text>
<text x="10.00" y="20.70" font-size="13.89" font-weight="bold" xml:space="preserve" font-family="DejaVu Sans, Liberation Sans, sans-serif">SkewTLogP ChurchFenton</text>
<text x="10.00" y="36.90" font-size="13.89" font-weight="bold" xml:space="preserve" font-family="DejaVu Sans, Liberation Sans, sans-serif">Lat: 53.83   Lon: -1.20</text>
<text x="10.00" y="52.90" font-size="13.89" font-weight="bold" xml:space="preserve" font-family="DejaVu Sans, Liberation Sans, sans-serif">Simulation start time: 2024-09-30_00:00:00, Valid time: 2024-10-01T08:00:00.00</text>
<text x="10.00" y="70.45" font-size="13.89" font-weight="bold" xml:space="preserve" font-family="DejaVu Sans, Liberation Sans, sans-serif">CAPE=0 j/kg, CIN=0 j/kg, LCL=980 hPa, LFC=nan hPa, EQ=nan hPa</text>
<text y="86.95" font-size="13.89" font-weight="bold" font-family="DejaVu Sans, Liberation Sans, sans-serif"><tspan x="10.80">LFT IDX=7</tspan><tspan x="102.20">C,</tspan><tspan x="122.80">K IDX=26</tspan><tspan x="206.90">C,</tspan><tspan x="227.30">TOTAL</tspan><tspan x="283.40">TOTS=45</tspan><tspan x="364.90">C,</tspan><tspan x="384.90">SHWTR_IDX=5</tspan><tspan x="507.90">C</tspan></text>
<text x="97.00" y="80.35" text-anchor="middle" font-size="9.72" font-family="DejaVu Sans, Liberation Sans, sans-serif">∘</text>
<text x="202.00" y="80.35" text-anchor="middle" font-size="9.72" font-family="DejaVu Sans, Liberation Sans, sans-serif">∘</text>
<text x="358.90" y="80.35" text-anchor="middle" font-size="9.72" font-family="DejaVu Sans, Liberation Sans, sans-serif">∘</text>
<text x="503.10" y="80.35" text-anchor="middle" font-size="9.72" font-family="DejaVu Sans, Liberation Sans, sans-serif">∘</text>
<rect x="91.50" y="704.50" width="154.00" height="154.00" fill="#fff"/>
<clipPath id="inclip"><rect x="91.50" y="704.50" width="154.00" height="154.00"/></clipPath>
<g clip-path="url(#inclip)">
<circle transform="translate(168.50 781.50) rotate(90) scale(1 -1)" cx="0" cy="0" r="25.67" fill="none" stroke="#808080" stroke-width="1.39" stroke-dasharray="5.14 2.22"/>
<circle transform="translate(168.50 781.50) rotate(90) scale(1 -1)" cx="0" cy="0" r="51.33" fill="none" stroke="#808080" stroke-width="1.39" stroke-dasharray="5.14 2.22"/>
<circle transform="translate(168.50 781.50) rotate(90) scale(1 -1)" cx="0" cy="0" r="77.00" fill="none" stroke="#808080" stroke-width="1.39" stroke-dasharray="5.14 2.22"/>
<circle transform="translate(168.50 781.50) rotate(90) scale(1 -1)" cx="0" cy="0" r="102.67" fill="none" stroke="#808080" stroke-width="1.39" stroke-dasharray="5.14 2.22"/>
<line x1="168.00" y1="858.00" x2="168.00" y2="704.50" stroke="#808080" stroke-width="2.0" stroke-dasharray="7.71 3.33"/>
<line x1="90.90" y1="781.00" x2="245.50" y2="781.00" stroke="#808080" stroke-width="2.0" stroke-dasharray="7.71 3.33"/>
<path d="M177.40 809.90 L177.51 811.84 L177.63 813.79" fill="none" stroke="#440154" stroke-width="3.8" stroke-linejoin="round"/>
<path d="M177.51 811.84 L177.63 813.79 L177.74 815.73" fill="none" stroke="#440154" stroke-width="3.8" stroke-linejoin="round"/>
<path d="M177.63 813.79 L177.74 815.73 L177.59 817.66" fill="none" stroke="#440154" stroke-width="3.8" stroke-linejoin="round"/>
<path d="M177.74 815.73 L177.59 817.66 L177.17 819.56" fill="none" stroke="#440255" stroke-width="3.8" stroke-linejoin="round"/>
<path d="M177.59 817.66 L177.17 819.56 L176.75 821.46" fill="none" stroke="#440255" stroke-width="3.8" stroke-linejoin="round"/>
<path d="M177.17 819.56 L176.75 821.46 L176.33 823.36" fill="none" stroke="#440255" stroke-width="3.8" stroke-linejoin="round"/>
<path d="M176.75 821.46 L176.33 823.36 L175.40 825.07" fill="none" stroke="#440357" stroke-width="3.8" stroke-linejoin="round"/>
<path d="M176.33 823.36 L175.40 825.07 L174.43 826.76" fill="none" stroke="#440357" stroke-width="3.8" stroke-linejoin="round"/>
<path d="M175.40 825.07 L174.43 826.76 L173.45 828.45" fill="none" stroke="#450558" stroke-width="3.8" stroke-linejoin="round"/>
<path d="M174.43 826.76 L173.45 828.45 L172.05 829.76" fill="none" stroke="#450558" stroke-width="3.8" stroke-linejoin="round"/>
<path d="M173.45 828.45 L172.05 829.76 L170.52 830.97" fill="none" stroke="#450558" stroke-width="3.8" stroke-linejoin="round"/>
<path d="M172.05 829.76 L170.52 830.97 L168.99 832.18" fill="none" stroke="#45065a" stroke-width="3.8" stroke-linejoin="round"/>
<path d="M170.52 830.97 L168.99 832.18 L167.37 833.22" fill="none" stroke="#45065a" stroke-width="3.8" stroke-linejoin="round"/>
<path d="M168.99 832.18 L167.37 833.22 L165.54 833.90" fill="none" stroke="#45085b" stroke-width="3.8" stroke-linejoin="round"/>
<path d="M167.37 833.22 L165.54 833.90 L163.72 834.57" fill="none" stroke="#45085b" stroke-width="3.8" stroke-linejoin="round"/>
<path d="M165.54 833.90 L163.72 834.57 L161.89 835.25" fill="none" stroke="#46095c" stroke-width="3.8" stroke-linejoin="round"/>
<path d="M163.72 834.57 L161.89 835.25 L159.95 835.13" fill="none" stroke="#460b5e" stroke-width="3.8" stroke-linejoin="round"/>
<path d="M161.89 835.25 L159.95 835.13 L158.00 835.01" fill="none" stroke="#460c5f" stroke-width="3.8" stroke-linejoin="round"/>
<path d="M159.95 835.13 L158.00 835.01 L156.09 834.80" fill="none" stroke="#460e61" stroke-width="3.8" stroke-linejoin="round"/>
<path d="M158.00 835.01 L156.09 834.80 L154.46 833.73" fill="none" stroke="#460e61" stroke-width="3.8" stroke-linejoin="round"/>
<path d="M156.09 834.80 L154.46 833.73 L152.82 832.67" fill="none" stroke="#470f62" stroke-width="3.8" stroke-linejoin="round"/>
<path d="M154.46 833.73 L152.82 832.67 L151.97 831.12" fill="none" stroke="#471163" stroke-width="3.8" stroke-linejoin="round"/>
<path d="M152.82 832.67 L151.97 831.12 L151.72 829.19" fill="none" stroke="#471466" stroke-width="3.8" stroke-linejoin="round"/>
<path d="M151.97 831.12 L151.72 829.19 L151.48 827.26" fill="none" stroke="#471669" stroke-width="3.8" stroke-linejoin="round"/>
<path d="M151.72 829.19 L151.48 827.26 L151.27 825.32" fill="none" stroke="#48196b" stroke-width="3.8" stroke-linejoin="round"/>
<path d="M151.48 827.26 L151.27 825.32 L151.14 823.38" fill="none" stroke="#481c6e" stroke-width="3.8" stroke-linejoin="round"/>
<path d="M151.27 825.32 L151.14 823.38 L151.02 821.43" fill="none" stroke="#481e70" stroke-width="3.8" stroke-linejoin="round"/>
<path d="M151.14 823.38 L151.02 821.43 L150.79 819.50" fill="none" stroke="#482172" stroke-width="3.8" stroke-linejoin="round"/>
<path d="M151.02 821.43 L150.79 819.50 L150.47 817.58" fill="none" stroke="#472575" stroke-width="3.8" stroke-linejoin="round"/>
<path d="M150.79 819.50 L150.47 817.58 L150.34 815.68" fill="none" stroke="#472777" stroke-width="3.8" stroke-linejoin="round"/>
<path d="M150.47 817.58 L150.34 815.68 L151.11 813.90" fill="none" stroke="#472c7b" stroke-width="3.8" stroke-linejoin="round"/>
<path d="M150.34 815.68 L151.11 813.90 L151.89 812.11" fill="none" stroke="#46307d" stroke-width="3.8" stroke-linejoin="round"/>
<path d="M151.11 813.90 L151.89 812.11 L152.85 810.49" fill="none" stroke="#453580" stroke-width="3.8" stroke-linejoin="round"/>
<path d="M151.89 812.11 L152.85 810.49 L154.53 809.50" fill="none" stroke="#443982" stroke-width="3.8" stroke-linejoin="round"/>
<path d="M152.85 810.49 L154.53 809.50 L156.21 808.51" fill="none" stroke="#433c84" stroke-width="3.8" stroke-linejoin="round"/>
<path d="M154.53 809.50 L156.21 808.51 L158.02 807.89" fill="none" stroke="#424085" stroke-width="3.8" stroke-linejoin="round"/>
<path d="M156.21 808.51 L158.02 807.89 L159.95 807.60" fill="none" stroke="#404387" stroke-width="3.8" stroke-linejoin="round"/>
<path d="M158.02 807.89 L159.95 807.60 L161.87 807.30" fill="none" stroke="#3e4989" stroke-width="3.8" stroke-linejoin="round"/>
<path d="M159.95 807.60 L161.87 807.30 L163.26 808.66" fill="none" stroke="#3c4e8a" stroke-width="3.8" stroke-linejoin="round"/>
<path d="M161.87 807.30 L163.26 808.66 L164.64 810.04" fill="none" stroke="#38578c" stroke-width="3.8" stroke-linejoin="round"/>
<path d="M163.26 808.66 L164.64 810.04 L166.36 809.71" fill="none" stroke="#32638d" stroke-width="3.8" stroke-linejoin="round"/>
<path d="M164.64 810.04 L166.36 809.71 L167.87 808.66" fill="none" stroke="#2e6b8e" stroke-width="3.8" stroke-linejoin="round"/>
<path d="M166.36 809.71 L167.87 808.66 L168.74 806.92" fill="none" stroke="#2c708e" stroke-width="3.8" stroke-linejoin="round"/>
<path d="M167.87 808.66 L168.74 806.92 L168.42 805.28" fill="none" stroke="#2b748e" stroke-width="3.8" stroke-linejoin="round"/>
<path d="M168.74 806.92 L168.42 805.28 L167.26 803.71" fill="none" stroke="#29798e" stroke-width="3.8" stroke-linejoin="round"/>
<path d="M168.42 805.28 L167.26 803.71 L166.68 801.92" fill="none" stroke="#277e8e" stroke-width="3.8" stroke-linejoin="round"/>
<path d="M167.26 803.71 L166.68 801.92 L166.48 799.98" fill="none" stroke="#24858d" stroke-width="3.8" stroke-linejoin="round"/>
<path d="M166.68 801.92 L166.48 799.98 L167.88 798.85" fill="none" stroke="#228b8d" stroke-width="3.8" stroke-linejoin="round"/>
<path d="M166.48 799.98 L167.88 798.85 L169.57 799.31" fill="none" stroke="#20918c" stroke-width="3.8" stroke-linejoin="round"/>
<path d="M167.88 798.85 L169.57 799.31 L170.91 800.40" fill="none" stroke="#1f968b" stroke-width="3.8" stroke-linejoin="round"/>
<path d="M169.57 799.31 L170.91 800.40 L170.36 802.27" fill="none" stroke="#1e9a89" stroke-width="3.8" stroke-linejoin="round"/>
<path d="M170.91 800.40 L170.36 802.27 L171.60 802.80" fill="none" stroke="#1e9e88" stroke-width="3.8" stroke-linejoin="round"/>
<path d="M170.36 802.27 L171.60 802.80 L173.55 802.80" fill="none" stroke="#1fa286" stroke-width="3.8" stroke-linejoin="round"/>
<path d="M171.60 802.80 L173.55 802.80 L175.49 802.80" fill="none" stroke="#21a784" stroke-width="3.8" stroke-linejoin="round"/>
<path d="M173.55 802.80 L175.49 802.80 L177.37 803.04" fill="none" stroke="#25ab81" stroke-width="3.8" stroke-linejoin="round"/>
<path d="M175.49 802.80 L177.37 803.04 L179.00 804.11" fill="none" stroke="#2cb17d" stroke-width="3.8" stroke-linejoin="round"/>
<path d="M177.37 803.04 L179.00 804.11 L180.63 805.17" fill="none" stroke="#33b679" stroke-width="3.8" stroke-linejoin="round"/>
<path d="M179.00 804.11 L180.63 805.17 L182.18 806.34" fill="none" stroke="#38b976" stroke-width="3.8" stroke-linejoin="round"/>
<path d="M180.63 805.17 L182.18 806.34 L183.62 807.66" fill="none" stroke="#3ebc73" stroke-width="3.8" stroke-linejoin="round"/>
<path d="M182.18 806.34 L183.62 807.66 L185.05 808.97" fill="none" stroke="#44be70" stroke-width="3.8" stroke-linejoin="round"/>
<path d="M183.62 807.66 L185.05 808.97 L186.09 810.61" fill="none" stroke="#49c16d" stroke-width="3.8" stroke-linejoin="round"/>
<path d="M185.05 808.97 L186.09 810.61 L187.04 812.31" fill="none" stroke="#55c666" stroke-width="3.8" stroke-linejoin="round"/>
<path d="M186.09 810.61 L187.04 812.31 L188.10 811.26" fill="none" stroke="#69cc5b" stroke-width="3.8" stroke-linejoin="round"/>
<path d="M187.04 812.31 L188.10 811.26 L189.20 809.65" fill="none" stroke="#7ed24e" stroke-width="3.8" stroke-linejoin="round"/>
<path d="M188.10 811.26 L189.20 809.65 L190.13 807.94" fill="none" stroke="#8dd644" stroke-width="3.8" stroke-linejoin="round"/>
<path d="M189.20 809.65 L190.13 807.94 L191.00 806.20" fill="none" stroke="#9fd938" stroke-width="3.8" stroke-linejoin="round"/>
<path d="M190.13 807.94 L191.00 806.20 L191.55 804.36" fill="none" stroke="#b5dd2b" stroke-width="3.8" stroke-linejoin="round"/>
<path d="M191.00 806.20 L191.55 804.36 L191.82 802.43" fill="none" stroke="#cae01e" stroke-width="3.8" stroke-linejoin="round"/>
<path d="M191.55 804.36 L191.82 802.43 L192.10 800.50" fill="none" stroke="#dfe318" stroke-width="3.8" stroke-linejoin="round"/>
<path d="M191.82 802.43 L192.10 800.50" fill="none" stroke="#f3e51e" stroke-width="3.8" stroke-linejoin="round"/>
</g>
<rect x="91.50" y="704.50" width="154.00" height="154.00" fill="none" stroke="#000" stroke-width="1.11"/>
<text x="166.90" y="682.0" text-anchor="middle" font-size="12.5" font-weight="bold" font-family="DejaVu Sans, Liberation Sans, sans-serif">Wind Profile</text>
<text x="171.50" y="696.8" text-anchor="middle" font-size="12.5" font-weight="bold" font-family="DejaVu Sans, Liberation Sans, sans-serif">10m/s increment</text></svg>
</body></html>
